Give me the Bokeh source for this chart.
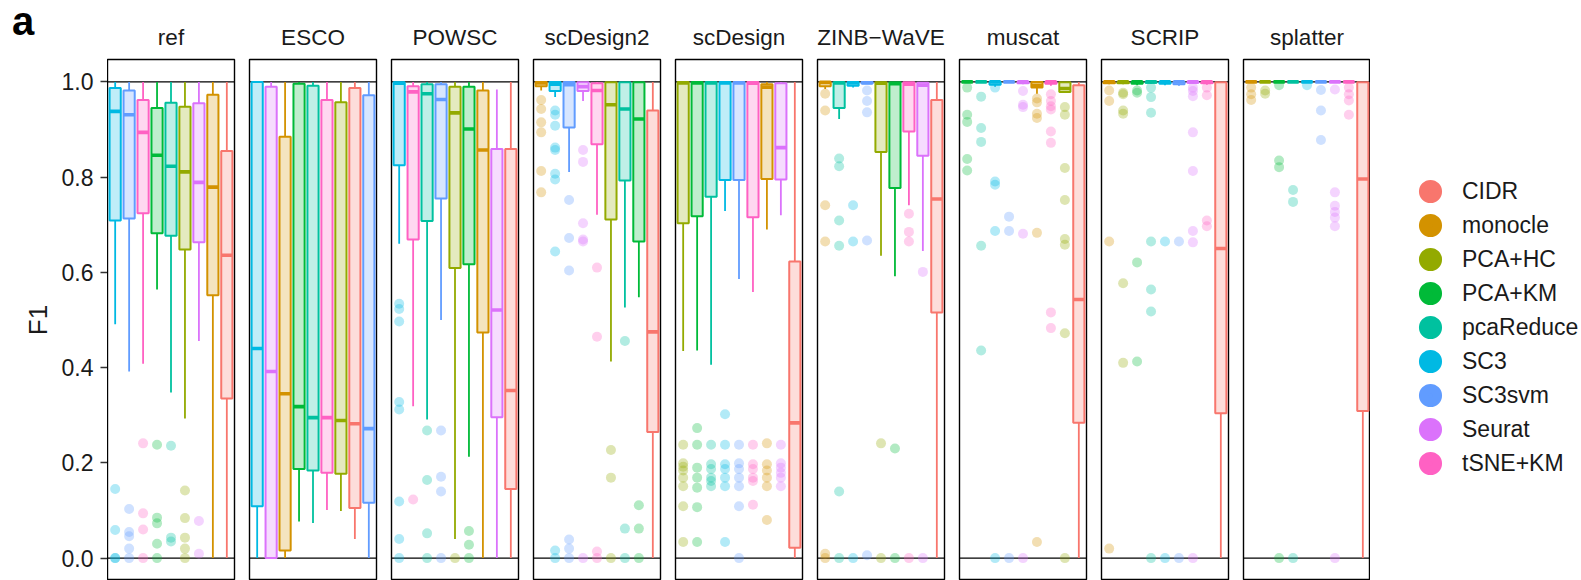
from bokeh.plotting import figure
from bokeh.layouts import row, column
from bokeh.models import (Range1d, Span, FixedTicker, PrintfTickFormatter, Legend,
                          LegendItem, ColumnDataSource, Div)
from bokeh.embed import file_html
from bokeh.resources import INLINE

METHODS = ["CIDR", "monocle", "PCA+HC", "PCA+KM", "pcaReduce", "SC3", "SC3svm", "Seurat", "tSNE+KM"]
COLORS = ["#F8766D", "#D39200", "#93AA00", "#00BA38", "#00C19F", "#00B9E3", "#619CFF", "#DB72FB", "#FF61C3"]
PANELS = ["ref", "ESCO", "POWSC", "scDesign2", "scDesign", "ZINB\u2212WaVE", "muscat", "SCRIP", "splatter"]
Y_TICKS = [0.0, 0.2, 0.4, 0.6, 0.8, 1.0]
Y_LABEL = "F1"
PANEL_TAG = "a"

# ---- ref ----
REF_ORDER = ["SC3", "SC3svm", "tSNE+KM", "PCA+KM", "pcaReduce", "PCA+HC", "Seurat", "monocle", "CIDR"]
REF_LO = [0.491, 0.392, 0.408, 0.564, 0.348, 0.293, 0.456, 0.0, 0.0]
REF_Q1 = [0.709, 0.713, 0.724, 0.682, 0.677, 0.648, 0.663, 0.552, 0.335]
REF_MED = [0.938, 0.931, 0.894, 0.846, 0.823, 0.811, 0.789, 0.779, 0.636]
REF_Q3 = [0.987, 0.982, 0.962, 0.945, 0.956, 0.948, 0.955, 0.973, 0.855]
REF_HI = [1.0, 1.0, 1.0, 1.0, 1.0, 1.0, 1.0, 1.0, 1.0]
REF_OUT = [[0.145, 0.059, 0.0, 0.0], [0.103, 0.055, 0.046, 0.020, 0.0], [0.241, 0.094, 0.060, 0.0],
           [0.238, 0.085, 0.073, 0.030, 0.0], [0.236, 0.043, 0.035], [0.142, 0.084, 0.043, 0.020, 0.0],
           [0.078, 0.009], [], []]

# ---- ESCO ----
ESCO_ORDER = ["SC3", "Seurat", "monocle", "PCA+KM", "pcaReduce", "tSNE+KM", "PCA+HC", "CIDR", "SC3svm"]
ESCO_LO = [0.0, 0.0, 0.0, 0.077, 0.074, 0.101, 0.099, 0.040, 0.0]
ESCO_Q1 = [0.109, 0.0, 0.016, 0.187, 0.184, 0.179, 0.177, 0.105, 0.116]
ESCO_MED = [0.440, 0.392, 0.345, 0.318, 0.295, 0.295, 0.289, 0.282, 0.272]
ESCO_Q3 = [1.0, 0.990, 0.885, 0.996, 0.992, 0.962, 0.957, 0.987, 0.972]
ESCO_HI = [1.0, 1.0, 1.0, 1.0, 1.0, 1.0, 1.0, 1.0, 1.0]
ESCO_OUT = [[], [], [], [], [], [], [], [], []]

# ---- POWSC ----
POWSC_ORDER = ["SC3", "tSNE+KM", "pcaReduce", "SC3svm", "PCA+HC", "PCA+KM", "monocle", "Seurat", "CIDR"]
POWSC_LO = [0.660, 0.319, 0.291, 0.500, 0.040, 0.213, 0.0, 0.0, 0.0]
POWSC_Q1 = [0.825, 0.669, 0.708, 0.755, 0.609, 0.617, 0.474, 0.296, 0.145]
POWSC_MED = [0.997, 0.979, 0.975, 0.963, 0.935, 0.901, 0.857, 0.521, 0.352]
POWSC_Q3 = [0.999, 0.991, 0.995, 0.995, 0.990, 0.990, 0.982, 0.859, 0.859]
POWSC_HI = [1.0, 1.0, 1.0, 1.0, 1.0, 1.0, 1.0, 0.984, 1.0]
POWSC_OUT = [[0.534, 0.523, 0.497, 0.328, 0.312, 0.119, 0.040, 0.0], [0.123],
             [0.268, 0.164, 0.052, 0.0], [0.268, 0.171, 0.140, 0.0], [0.0],
             [0.057, 0.028, 0.0], [], [], []]

# ---- scDesign2 ----
SCD2_ORDER = ["monocle", "SC3", "SC3svm", "Seurat", "tSNE+KM", "PCA+HC", "pcaReduce", "PCA+KM", "CIDR"]
SCD2_LO = [0.982, 0.968, 0.811, 0.960, 0.721, 0.413, 0.526, 0.548, 0.0]
SCD2_Q1 = [0.991, 0.981, 0.904, 0.981, 0.869, 0.711, 0.793, 0.665, 0.265]
SCD2_MED = [0.998, 0.995, 0.994, 0.990, 0.982, 0.952, 0.943, 0.922, 0.475]
SCD2_Q3 = [1.0, 1.0, 1.0, 0.999, 0.997, 0.999, 0.999, 0.999, 0.940]
SCD2_HI = [1.0, 1.0, 1.0, 1.0, 1.0, 1.0, 1.0, 1.0, 1.0]
SCD2_OUT = [[0.962, 0.943, 0.915, 0.894, 0.813, 0.768],
            [0.940, 0.931, 0.908, 0.862, 0.857, 0.807, 0.795, 0.644, 0.016, 0.0],
            [0.752, 0.672, 0.604, 0.039, 0.020, 0.0],
            [0.857, 0.832, 0.703, 0.669, 0.665, 0.0],
            [0.610, 0.465, 0.014, 0.0], [0.227, 0.169, 0.0], [0.456, 0.062, 0.0],
            [0.111, 0.062, 0.0], []]

# ---- scDesign ----
SCD_ORDER = ["PCA+HC", "PCA+KM", "pcaReduce", "SC3", "SC3svm", "tSNE+KM", "monocle", "Seurat", "CIDR"]
SCD_LO = [0.435, 0.436, 0.406, 0.729, 0.586, 0.559, 0.690, 0.720, 0.0]
SCD_Q1 = [0.703, 0.718, 0.759, 0.794, 0.794, 0.716, 0.796, 0.795, 0.022]
SCD_MED = [0.998, 0.998, 0.998, 0.998, 0.998, 0.997, 0.989, 0.862, 0.284]
SCD_Q3 = [1.0, 1.0, 1.0, 1.0, 1.0, 1.0, 0.995, 0.997, 0.623]
SCD_HI = [1.0, 1.0, 1.0, 1.0, 1.0, 1.0, 1.0, 1.0, 1.0]
SCD_OUT = [[0.238, 0.199, 0.192, 0.184, 0.169, 0.151, 0.109, 0.034],
           [0.273, 0.238, 0.190, 0.169, 0.148, 0.107, 0.034],
           [0.238, 0.197, 0.187, 0.169, 0.162, 0.151],
           [0.302, 0.238, 0.197, 0.187, 0.169, 0.151, 0.034],
           [0.238, 0.199, 0.187, 0.169, 0.151, 0.109, 0.0],
           [0.238, 0.197, 0.187, 0.169, 0.162, 0.112],
           [0.241, 0.197, 0.184, 0.169, 0.151, 0.080],
           [0.238, 0.199, 0.190, 0.179, 0.169, 0.151], []]

# ---- ZINB-WaVE ----
ZINB_ORDER = ["monocle", "pcaReduce", "SC3", "SC3svm", "PCA+HC", "PCA+KM", "tSNE+KM", "Seurat", "CIDR"]
ZINB_LO = [0.985, 0.922, 0.988, 0.996, 0.635, 0.592, 0.741, 0.645, 0.0]
ZINB_Q1 = [0.991, 0.945, 0.992, 0.997, 0.853, 0.777, 0.896, 0.845, 0.516]
ZINB_MED = [0.999, 0.998, 0.998, 0.998, 0.997, 0.996, 0.995, 0.993, 0.754]
ZINB_Q3 = [1.0, 0.999, 1.0, 1.0, 0.999, 0.999, 0.999, 0.998, 0.962]
ZINB_HI = [1.0, 1.0, 1.0, 1.0, 1.0, 1.0, 1.0, 1.0, 1.0]
ZINB_OUT = [[0.975, 0.940, 0.741, 0.665, 0.009, 0.0],
            [0.839, 0.823, 0.709, 0.656, 0.140, 0.0],
            [0.741, 0.665, 0.0],
            [0.982, 0.960, 0.936, 0.667, 0.006],
            [0.241, 0.0], [0.230, 0.0], [0.723, 0.685, 0.665, 0.0], [0.601, 0.0], []]

# ---- muscat ----
MUSCAT_ORDER = ["PCA+KM", "pcaReduce", "SC3", "SC3svm", "Seurat", "monocle", "tSNE+KM", "PCA+HC", "CIDR"]
MUSCAT_LO = [1.0, 1.0, 0.990, 1.0, 0.995, 0.975, 0.992, 0.979, 0.0]
MUSCAT_Q1 = [1.0, 1.0, 0.994, 1.0, 0.997, 0.988, 0.996, 0.979, 0.284]
MUSCAT_MED = [1.0, 1.0, 1.0, 1.0, 1.0, 0.993, 1.0, 0.986, 0.543]
MUSCAT_Q3 = [1.0, 1.0, 1.0, 1.0, 1.0, 1.0, 1.0, 0.999, 0.993]
MUSCAT_HI = [1.0, 1.0, 1.0, 1.0, 1.0, 1.0, 1.0, 0.999, 1.0]
MUSCAT_OUT = [[0.988, 0.931, 0.916, 0.838, 0.814],
              [0.969, 0.903, 0.874, 0.656, 0.436],
              [0.988, 0.791, 0.784, 0.687, 0.0],
              [0.717, 0.687, 0.0],
              [0.981, 0.952, 0.947, 0.681, 0.0],
              [0.965, 0.957, 0.933, 0.924, 0.683, 0.034],
              [0.974, 0.960, 0.949, 0.942, 0.896, 0.872, 0.516, 0.483],
              [0.947, 0.931, 0.819, 0.752, 0.670, 0.658, 0.472, 0.0], []]

# ---- SCRIP ----
SCRIP_ORDER = ["monocle", "PCA+HC", "PCA+KM", "pcaReduce", "SC3", "SC3svm", "Seurat", "tSNE+KM", "CIDR"]
SCRIP_LO = [0.995, 0.995, 0.993, 0.996, 0.993, 0.992, 0.996, 0.994, 0.0]
SCRIP_Q1 = [0.997, 0.997, 0.996, 0.998, 0.996, 0.995, 0.998, 0.997, 0.304]
SCRIP_MED = [1.0, 1.0, 1.0, 1.0, 1.0, 1.0, 1.0, 1.0, 0.650]
SCRIP_Q3 = [1.0, 1.0, 1.0, 1.0, 1.0, 1.0, 1.0, 1.0, 0.999]
SCRIP_HI = [1.0, 1.0, 1.0, 1.0, 1.0, 1.0, 1.0, 1.0, 1.0]
SCRIP_OUT = [[0.982, 0.960, 0.665, 0.020],
             [0.977, 0.974, 0.940, 0.933, 0.577, 0.410],
             [0.982, 0.977, 0.621, 0.413],
             [0.988, 0.968, 0.935, 0.665, 0.564, 0.518, 0.0],
             [0.665, 0.0], [0.665, 0.0],
             [0.988, 0.981, 0.970, 0.894, 0.813, 0.687, 0.663, 0.0],
             [0.988, 0.972, 0.709, 0.697], []]

# ---- splatter ----
SPLAT_ORDER = ["monocle", "PCA+HC", "PCA+KM", "pcaReduce", "SC3", "SC3svm", "Seurat", "tSNE+KM", "CIDR"]
SPLAT_LO = [1.0, 1.0, 1.0, 1.0, 1.0, 1.0, 1.0, 1.0, 0.0]
SPLAT_Q1 = [1.0, 1.0, 1.0, 1.0, 1.0, 1.0, 1.0, 1.0, 0.309]
SPLAT_MED = [1.0, 1.0, 1.0, 1.0, 1.0, 1.0, 1.0, 1.0, 0.796]
SPLAT_Q3 = [1.0, 1.0, 1.0, 1.0, 1.0, 1.0, 1.0, 1.0, 0.999]
SPLAT_HI = [1.0, 1.0, 1.0, 1.0, 1.0, 1.0, 1.0, 1.0, 1.0]
SPLAT_OUT = [[0.988, 0.974, 0.962], [0.982, 0.975], [0.993, 0.835, 0.821, 0.0],
             [0.773, 0.748, 0.0], [0.993], [0.983, 0.940, 0.878],
             [0.984, 0.768, 0.740, 0.727, 0.715, 0.697, 0.0],
             [0.988, 0.974, 0.961, 0.931], []]

PANEL_DATA = [
    (REF_ORDER, REF_LO, REF_Q1, REF_MED, REF_Q3, REF_HI, REF_OUT),
    (ESCO_ORDER, ESCO_LO, ESCO_Q1, ESCO_MED, ESCO_Q3, ESCO_HI, ESCO_OUT),
    (POWSC_ORDER, POWSC_LO, POWSC_Q1, POWSC_MED, POWSC_Q3, POWSC_HI, POWSC_OUT),
    (SCD2_ORDER, SCD2_LO, SCD2_Q1, SCD2_MED, SCD2_Q3, SCD2_HI, SCD2_OUT),
    (SCD_ORDER, SCD_LO, SCD_Q1, SCD_MED, SCD_Q3, SCD_HI, SCD_OUT),
    (ZINB_ORDER, ZINB_LO, ZINB_Q1, ZINB_MED, ZINB_Q3, ZINB_HI, ZINB_OUT),
    (MUSCAT_ORDER, MUSCAT_LO, MUSCAT_Q1, MUSCAT_MED, MUSCAT_Q3, MUSCAT_HI, MUSCAT_OUT),
    (SCRIP_ORDER, SCRIP_LO, SCRIP_Q1, SCRIP_MED, SCRIP_Q3, SCRIP_HI, SCRIP_OUT),
    (SPLAT_ORDER, SPLAT_LO, SPLAT_Q1, SPLAT_MED, SPLAT_Q3, SPLAT_HI, SPLAT_OUT),
]

FONT = "Liberation Sans"
TXT = "#1A1A1A"
COLOR_OF = dict(zip(METHODS, COLORS))
BOX_W = 0.8
Y0, Y1 = -0.047, 1.047
H = 580
TOP = 59
NAN = float("nan")

# ---------- left column: panel tag + y axis ----------
tag_h = 45
tag = Div(text='<div style="font-family:\'Liberation Sans\',Arial,sans-serif;font-weight:bold;'
               'font-size:40px;line-height:40px;padding:1px 0 0 12px;color:black;">%s</div>' % PANEL_TAG,
          width=107, height=tag_h, margin=0)

pax = figure(width=107, height=H - tag_h, x_range=Range1d(0, 1), y_range=Range1d(Y0, Y1),
             output_backend="svg", toolbar_location=None, x_axis_location=None,
             y_axis_location="left", min_border_left=100, min_border_right=0,
             min_border_top=TOP - tag_h, min_border_bottom=0)
pax.grid.visible = False
pax.outline_line_color = None
ax = pax.yaxis[0]
ax.ticker = FixedTicker(ticks=Y_TICKS)
ax.formatter = PrintfTickFormatter(format="%.1f")
ax.major_label_text_font = FONT
ax.major_label_text_font_size = "23px"
ax.major_label_text_color = TXT
ax.major_tick_out = 0
ax.major_tick_in = 7
ax.major_tick_line_width = 1.3
ax.major_tick_line_color = "#333333"
ax.minor_tick_line_color = None
ax.axis_line_color = None
ax.major_label_standoff = 7
ax.axis_label = Y_LABEL
ax.axis_label_text_font = FONT
ax.axis_label_text_font_size = "26px"
ax.axis_label_text_font_style = "normal"
ax.axis_label_text_color = TXT
ax.axis_label_standoff = 6

left_col = column(tag, pax, spacing=0)

# ---------- panels ----------
figs = []
n = len(PANELS)
for k, (title, data) in enumerate(zip(PANELS, PANEL_DATA)):
    order, lo, q1, med, q3, hi, outs = data
    left_b = 0 if k == 0 else 7
    right_b = 0 if k == n - 1 else 8
    p = figure(width=left_b + 127 + right_b, height=H,
               x_range=Range1d(0.45, 9.55), y_range=Range1d(Y0, Y1),
               output_backend="svg", toolbar_location=None,
               x_axis_location=None, y_axis_location=None,
               min_border_left=left_b, min_border_right=right_b,
               min_border_top=TOP, min_border_bottom=0, title=title)
    p.grid.visible = False
    p.outline_line_color = "black"
    p.outline_line_width = 1.4
    p.title.align = "center"
    p.title.text_font = FONT
    p.title.text_font_size = "22.5px"
    p.title.text_font_style = "normal"
    p.title.text_color = TXT
    p.title.standoff = 19

    for yv in (0.0, 1.0):
        p.add_layout(Span(location=yv, dimension="width", line_color="black",
                          line_width=1.1, level="underlay"))

    xs = list(range(1, len(order) + 1))
    cols = [COLOR_OF[m] for m in order]
    src = ColumnDataSource(dict(x=xs, lo=lo, q1=q1, med=med, q3=q3, hi=hi, color=cols,
                                xl=[x - BOX_W / 2 for x in xs], xr=[x + BOX_W / 2 for x in xs],
                                method=order))
    p.segment(x0="x", y0="q3", x1="x", y1="hi", line_color="color", line_width=1.8, source=src)
    p.segment(x0="x", y0="q1", x1="x", y1="lo", line_color="color", line_width=1.8, source=src)
    p.vbar(x="x", width=BOX_W, top="q3", bottom="q1", fill_color="color", fill_alpha=0.25,
           line_color="color", line_width=2, source=src)
    p.segment(x0="xl", y0="med", x1="xr", y1="med", line_color="color", line_width=3.6, source=src)

    ox, oy, oc = [], [], []
    for x, m, vals in zip(xs, order, outs):
        for v in vals:
            ox.append(x)
            oy.append(v)
            oc.append(COLOR_OF[m])
    p.scatter(x=ox, y=oy, size=10, fill_color=oc, fill_alpha=0.3, line_color=None)
    figs.append(p)

# ---------- legend ----------
pleg = figure(width=211, height=H, x_range=Range1d(0, 1), y_range=Range1d(0, 1),
              output_backend="svg", toolbar_location=None,
              x_axis_location=None, y_axis_location=None,
              min_border_left=0, min_border_right=0, min_border_top=0, min_border_bottom=0)
pleg.grid.visible = False
pleg.outline_line_color = None
items = []
for m, c in zip(METHODS, COLORS):
    r = pleg.scatter(x=[NAN], y=[NAN], size=1, fill_color=c, line_color=c, line_width=9.5)
    items.append(LegendItem(label=m, renderers=[r]))
leg = Legend(items=items, location=(43, 100), glyph_width=34, glyph_height=34,
             spacing=0, padding=0, margin=0, label_standoff=15,
             label_text_font=FONT, label_text_font_size="23px",
             label_text_color=TXT, border_line_color=None,
             background_fill_alpha=0)
pleg.add_layout(leg)

layout = row(left_col, *figs, pleg, spacing=0)
open("out.html", "w").write(file_html(layout, INLINE))
